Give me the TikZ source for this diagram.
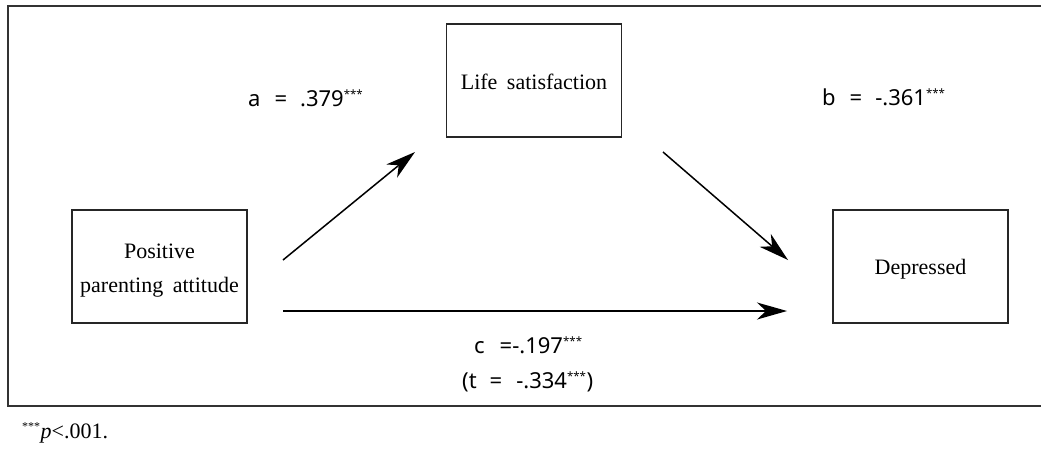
\documentclass[tikz,border=0pt]{standalone}
\usepackage{fontspec}
\setmainfont{Liberation Serif}
\newfontfamily\lblfont{Noto Sans}
\usetikzlibrary{arrows.meta}
\tikzset{
  varbox/.style={draw=black!85, line width=1.1pt, minimum width=175pt, minimum height=113pt, inner sep=0pt},
  boxtext/.style={font=\fontsize{22}{34}\selectfont, align=center, inner sep=0pt},
  path arrow/.style={line width=1.5pt, -{Stealth[length=30pt,width=17pt,inset=9pt]}},
  coef/.style={font=\lblfont\fontsize{22}{26}\selectfont, anchor=base west, inner sep=0pt},
  frame/.style={draw=black!80, line width=1.4pt}
}
\newcommand{\stars}{\textsuperscript{\fontsize{11.5}{11.5}\selectfont ***}}
\begin{document}
\begin{tikzpicture}[x=1pt,y=-1pt]
\useasboundingbox (0,0) rectangle (1041,448);
\draw[frame] (1045,6) -- (8,6) -- (8,406) -- (1045,406);
\node[varbox] (P) at (159.5,266.5) {};
\node[boxtext] (Pt) at (P) [yshift=-4pt] {Positive\\parenting\hspace{4pt} attitude};
\node[varbox] (L) at (534,80.5) {};
\node[boxtext] (Lt) at (L) [yshift=-1.5pt] {Life\hspace{4pt} satisfaction};
\node[varbox] (D) at (920.5,266.5) {};
\node[boxtext] (Dt) at (D) [yshift=-3pt] {Depressed};
\coordinate (a1) at (283,260);
\coordinate (a2) at (415,152);
\coordinate (b1) at (663,152);
\coordinate (b2) at (788,260);
\coordinate (c1) at (283,311);
\coordinate (c2) at (787,311);
\draw[path arrow] (a1) -- (a2);
\draw[path arrow] (b1) -- (b2);
\draw[path arrow] (c1) -- (c2);
\node[coef] (la) at (248,106) {a\hspace{14pt}=\hspace{13pt}.379\stars};
\node[coef] (lb) at (822,105) {b\hspace{14pt}=\hspace{13pt}-.361\stars};
\node[coef] (lc) at (474,353) {c\hspace{15pt}=-.197\stars};
\node[coef] (lt) at (462,388) {(t\hspace{13pt}=\hspace{14pt}-.334\stars)};
\node[anchor=base west, inner sep=0pt, font=\fontsize{22}{24}\selectfont] (fn) at (22,438) {\textsuperscript{\fontsize{12}{12}\selectfont ***}\textit{p}<.001.};
\end{tikzpicture}
\end{document}
